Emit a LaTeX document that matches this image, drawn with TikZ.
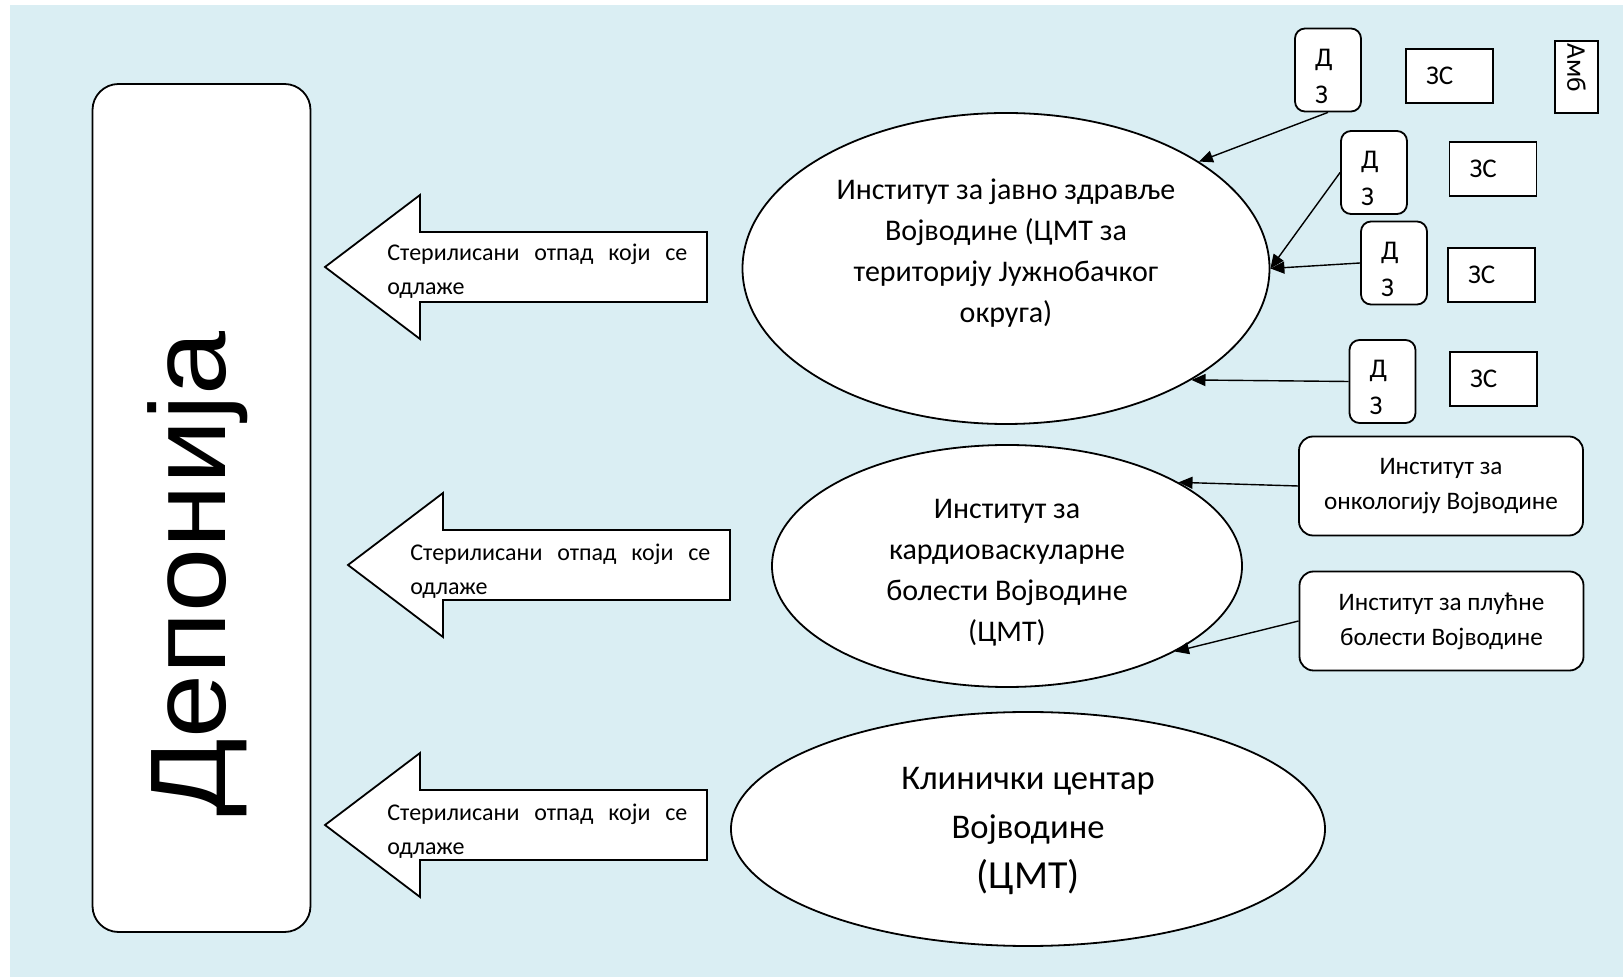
\documentclass[tikz,border=0pt]{standalone}
\usepackage{fontspec}
\setmainfont{Carlito}
\newfontfamily\depfont{Liberation Sans}
\usetikzlibrary{shapes.geometric,arrows.meta}
\definecolor{bgblue}{HTML}{DAEEF3}
\tikzset{
  shapeline/.style={draw=black, line width=0.9pt, fill=white},
  dzbox/.style={shapeline, rounded corners=5pt, minimum height=41.5pt, text width=13pt, inner xsep=10pt, align=left, font=\fontsize{13.5}{18.5}\selectfont},
  zsbox/.style={shapeline, minimum height=27pt, text width=23.5pt, inner xsep=10pt, align=left, font=\fontsize{13.5}{16}\selectfont},
  instbox/.style={shapeline, rounded corners=7pt, minimum width=142pt, minimum height=49.5pt, align=center, font=\fontsize{12.6}{17.5}\selectfont},
  ellnode/.style={shapeline, ellipse, inner sep=0pt},
  elltext/.style={align=center, inner sep=0pt, font=\fontsize{15}{20.5}\selectfont},
  arrtext/.style={align=left, text width=150pt, inner sep=0pt, anchor=west, font=\fontsize{12}{17}\selectfont},
  blockarrow/.style={draw=black, line width=0.9pt, fill=white},
  conn/.style={draw=black, line width=0.7pt, -{Triangle[length=7pt,width=6pt]}},
}
\newcommand{\steriltext}{\makebox[150pt][l]{Стерилисани\hfill отпад\hfill који\hfill се}\\одлаже}
\begin{document}
\begin{tikzpicture}[x=0.5pt,y=-0.5pt]
\useasboundingbox (0,0) rectangle (1623,977);
\fill[bgblue] (10,5) rectangle (1623,977);

% landfill
\node[shapeline, rounded corners=13pt, minimum width=109pt, minimum height=424pt] (dep) at (201.5,508) {};
\node[rotate=90, anchor=base west, inner sep=0pt, font=\depfont\fontsize{53.75}{60}\selectfont] (deptext) at (225,817) {\scalebox{1.07}[1]{Депонија}};

% block arrows
\draw[blockarrow, shift={(325,267)}] (0,0) -- (95,-72) -- (95,-35) -- (382,-35) -- (382,35) -- (95,35) -- (95,72) -- cycle;
\draw[blockarrow, shift={(348,565)}] (0,0) -- (95,-72) -- (95,-35) -- (382,-35) -- (382,35) -- (95,35) -- (95,72) -- cycle;
\draw[blockarrow, shift={(325,825)}] (0,0) -- (95,-72) -- (95,-35) -- (382,-35) -- (382,35) -- (95,35) -- (95,72) -- cycle;
\node[arrtext] (a1t) at (387,271.5) {\steriltext};
\node[arrtext] (a2t) at (410,571) {\steriltext};
\node[arrtext] (a3t) at (387,831) {\steriltext};

% ellipses
\node[ellnode, minimum width=263.5pt, minimum height=155.5pt] (e1) at (1006,268.5) {};
\node[elltext] (e1t) at (1006,253) {Институт за јавно здравље\\Војводине (ЦМТ за\\територију Јужнобачког\\округа)};
\node[ellnode, minimum width=235pt, minimum height=121pt] (e2) at (1007,566) {};
\node[elltext] (e2t) at (1007,573) {Институт за\\кардиоваскуларне\\болести Војводине\\(ЦМТ)};
\node[ellnode, minimum width=297pt, minimum height=117pt] (e3) at (1028,829) {};
\node[align=center, inner sep=0pt, font=\fontsize{17.3}{24.75}\selectfont] (e3t) at (1028,831) {Клинички центар\\Војводине\\{\fontsize{19.9}{24.75}\selectfont (ЦМТ)}};

% small boxes
\node[dzbox] (dz1) at (1328,70) {\rule{0pt}{15pt}Д\\З};
\node[dzbox] (dz2) at (1374,172.5) {\rule{0pt}{15pt}Д\\З};
\node[dzbox] (dz3) at (1394,263) {\rule{0pt}{15pt}Д\\З};
\node[dzbox] (dz4) at (1382.5,381.5) {\rule{0pt}{15pt}Д\\З};
\node[zsbox] (zs1) at (1449.5,76) {ЗС};
\node[zsbox] (zs2) at (1493,169) {ЗС};
\node[zsbox] (zs3) at (1491.5,275) {ЗС};
\node[zsbox] (zs4) at (1493.5,379) {ЗС};
\node[shapeline, rotate=-90, minimum width=36pt, minimum height=21.5pt, text width=33pt, inner xsep=1.5pt, align=left, font=\fontsize{13.5}{16}\selectfont] (amb) at (1576.5,77) {Амб};

\node[instbox] (onc) at (1441,486) {Институт за\\онкологију Војводине};
\node[instbox] (lung) at (1441.5,621) {Институт за плућне\\болести Војводине};

% connectors
\draw[conn] (dz1.south) -- (e1.29.6);
\draw[conn] (dz2.west) -- (e1.0);
\draw[conn] (dz3.west) -- (e1.0);
\draw[conn] (dz4.west) -- (e1.-31.2);
\draw[conn] (onc.west) -- (e2.26.6);
\draw[conn] (lung.west) -- (e2.-27.8);
\end{tikzpicture}
\end{document}
